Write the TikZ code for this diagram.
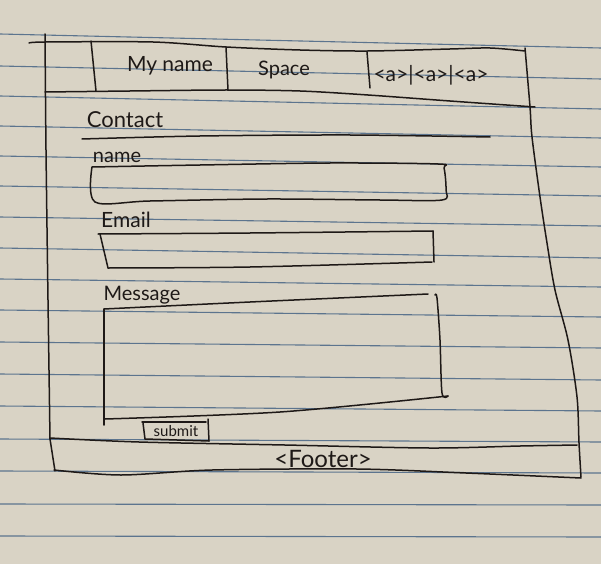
\documentclass[tikz,border=0pt]{standalone}
\usepackage{fontspec}
\setmainfont{Lato}
\definecolor{paper}{RGB}{217,211,197}
\definecolor{rulec}{RGB}{92,116,142}
\definecolor{inkc}{RGB}{30,25,23}
\begin{document}
\begin{tikzpicture}[x=1pt,y=-1pt,
  ink/.style={draw=inkc, line width=1.5pt, line cap=round, line join=round},
  rule/.style={draw=rulec, line width=1.1pt},
  hand/.style={text=inkc, font=\fontsize{#1}{#1}\selectfont, inner sep=0pt},
  hand/.default=19]

% sheet of ruled paper
\fill[paper] (0,0) rectangle (601,564);
\useasboundingbox (0,0) rectangle (601,564);
\foreach \l/\r in {34/48, 66/79, 96/109, 126/138, 156/167, 186/196,
                   217/226, 248/258, 279/287, 310/317, 342/348, 374/380,
                   406/411, 439/442, 471/473, 504/505, 536/537}
  \draw[rule] (0,\l) -- (601,\r);

% page frame
\draw[ink] plot[smooth] coordinates {(29,43) (46,42) (153,42) (226,47) (300,50) (368,51) (450,49) (490,48) (525,51)};
\draw[ink] plot[smooth] coordinates {(45,34) (46,150) (48,300) (50,439)};
\draw[ink] (50,439) -- (55,471);
\draw[ink] plot[smooth] coordinates {(525,48) (530,107) (532,137) (540,197) (547,243) (555,290) (568,340) (577,397) (579,443) (581,477)};

% header bar
\draw[ink] plot[smooth] coordinates {(45,92) (130,91) (226,90) (300,91) (368,95) (450,101) (535,107)};
\draw[ink] (91,41) -- (96,91);
\draw[ink] (226,47) -- (228,90);
\draw[ink] (367,52) -- (370,88);
\node[hand=21] (myname) at (170,66) {My name};
\node[hand=20] (space) at (284,70) {Space};
\node[hand=21] (links) at (431,75) {<a>|<a>|<a>};

% contact heading
\node[hand=22] (contact) at (125,120) {Contact};
\draw[ink] plot[smooth] coordinates {(82,139) (200,136) (350,135) (490,137)};

% name field
\node[hand=20] (namel) at (117,157) {name};
\draw[ink] plot[smooth] coordinates {(92,167) (200,165) (330,163) (438,164) (444,168) (446,190) (442,200) (380,200) (267,199) (150,201) (95,202) (92,167)};

% email field
\node[hand=21] (emaill) at (126,220) {Email};
\draw[ink] plot[smooth] coordinates {(98,234) (250,233) (433,231)};
\draw[ink] (433,231) -- (434,262);
\draw[ink] (100,234) -- (108,268);
\draw[ink] plot[smooth] coordinates {(108,268) (250,267) (432,262)};

% message area
\node[hand=20] (msgl) at (142,295) {Message};
\draw[ink] plot[smooth] coordinates {(104,309) (250,302) (428,294)};
\draw[ink] (104,309) -- (104,425);
\draw[ink] plot[smooth] coordinates {(435,295) (437,298) (440,340) (442,393) (448,396)};
\draw[ink] plot[smooth] coordinates {(105,419) (280,412) (448,396)};

% submit button
\draw[ink] (142,422) -- (206,422);
\draw[ink] (208,419) -- (209,441);
\draw[ink] (143,423) -- (145,439) -- (209,441);
\node[hand=15] (submit) at (176,431) {submit};

% footer
\draw[ink] plot[smooth] coordinates {(50,438) (139,442) (285,445) (430,448) (520,446) (577,445)};
\draw[ink] plot[smooth] coordinates {(54,470) (121,475) (212,470) (357,469) (466,473) (581,478)};
\node[hand=24] (footer) at (323,459) {<Footer>};
\end{tikzpicture}
\end{document}
